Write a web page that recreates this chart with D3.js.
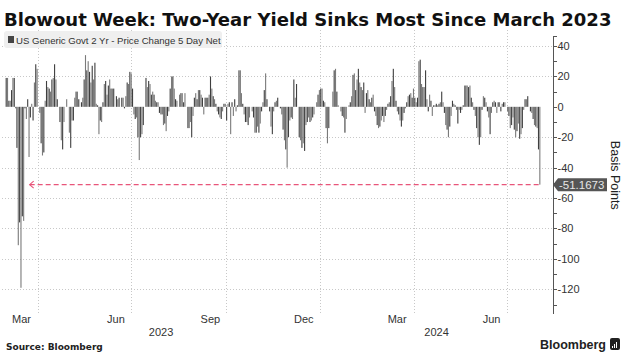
<!DOCTYPE html>
<html>
<head>
<meta charset="utf-8">
<title>Blowout Week</title>
<style>
  body { margin: 0; background: #fff; }
  text { font-family: "Liberation Sans", Arial, sans-serif; }
</style>
</head>
<body>
<script src="https://cdn.jsdelivr.net/npm/d3@7/dist/d3.min.js"></script>
<script>

// 5 day net change of the US 2 year yield, basis points, one value per session (Mar 2023 - Aug 2 2024)
var netChange = [
  19, 19, 4, 4, 11, 19, 19, -1, -27, -91, -76, -119, -72, -75, -1, -8, 5, -33, -7, 2,
  -9, 16, 28, 25, 0, -4, -24, -32, -30, 4, 17, 13, 12, 10, 18, 19, 28, 18, 5, 0,
  -10, -22, -28, -10, 0, 5, 0, -17, -27, -9, -9, 6, 10, 10, 5, 0, 3, 6, 18, 34,
  24, 30, 23, 16, 27, 18, 29, 2, 1, -18, -9, -10, 3, 15, 17,
  8, 14, 18, 12, 12, 12, 0, 7, 5, 6, 0, 6, 6, -1, 7, 16, 15, 23, 22, 12,
  -5, -8, -7, -20, -35, -20, -18, -12, 0, 19, 13, 17, 15, 8, 10, 8, 4, 3, 3, -4,
  -5, -5, -12, -11, -16, -6, -3, 12, 20, 20, 12, 5, 4, 0, 8, 9, 9, 3, 9, 0,
  -14, -14, -10, -20, -6, 6, 9, 5, 11, 11, 8, 6, -5, 6, 6, 6, 8, 20,
  12, 7, 5, 2, -3, -5, -7, -8, -3, 2, 2, -9, 2, 3, -18, 3, -6, 5, -3, 1,
  24, 24, 9, 2, -5, -10, -10, -12, -7, 0, -3, -7, -17, -17, -13, -17, -11, -3, 3, 11,
  22, 5, 0, -3, -13, -18, -3, 3, 4, 6, 0, -1, -5, -15, -22, -28, -40, -20, -9, -7,
  -8, 18, 6, 15, 0, -20, -22, -27, -24, -29, -12, -10, -7, -10, -9, -7, -5, 0, 3, 8,
  11, 12,
  12, 4, 3, -14, -24, -14, 0, 0, 10, 24, 25, 10, 1, 0, -3, -6, -7, -17, -8, 0,
  1, 3, 7, 21, 22, 11, 18, 25, 16, 13, 11, 16, -4, 9, 11, 5, 3, 6, 8, -3,
  -6, -12, -14, -13, -9, -6, -10, -6, -2, 2, 3, 7, 17, 25, 13, 4, -3, -5, -9, -13,
  -9, -4, -1, 3, 7, 8, 9, 6, 12, 6, 3, 6, 30, 31, 15, 13, 13, 24, 5, -3,
  8, 4, -6,
  1, 1, 2, 1, 2, 3, 10, 3, -4, -12, -15, -20, -13, -6, 4, 2, 1, -2, -11, -2,
  -4, -2, 1, 14, 14, 14, 13, 14, 6, 3, -2, -6, -14, -20, -25, -20, -2, 7, 6, 3,
  -3, -7, -18, -4, 3, 4, 3, -4, 3, 3, -3, 2, 3, 3, 0, -3, -6, -14, -12, -7,
  -15, -20, -16, -11, -21, -18, -14, -2, 5, 5, 7, 0, -3, -4, -8, -12, -13, -14, -28, -51.1673
];

var firstSession = new Date(2023, 2, 1);
var lastSession = new Date(2024, 7, 2);

var monthTicks = [new Date(2023, 2, 1), new Date(2023, 5, 1), new Date(2023, 8, 1),
                  new Date(2023, 11, 1), new Date(2024, 2, 1), new Date(2024, 5, 1)];
var monthNames = ["Mar", "Jun", "Sep", "Dec", "Mar", "Jun"];
var years = [2023, 2024];
var yTicks = [40, 20, 0, -20, -40, -60, -80, -100, -120];

var W = 634, H = 361;
var svg = d3.select("body").append("svg").attr("width", W).attr("height", H);

// scales
var x = d3.scaleTime()
  .domain([new Date(2023, 3, 1), new Date(2024, 6, 1)])
  .range([38, 507]);
var xi = d3.scaleLinear()
  .domain([0, netChange.length - 1])
  .range([x(firstSession), x(lastSession)]);
var y = d3.scaleLinear().domain([-120, 40]).range([289.3, 46]);

var plotLeft = 2, axisX = 553, gridTop = 30, gridBottom = 313;

// title
var title = svg.append("text")
  .attr("x", 4).attr("y", 26)
  .style("font-family", "'DejaVu Sans', sans-serif")
  .style("font-weight", "bold")
  .style("font-size", "18px")
  .attr("fill", "#111")
  .text("Blowout Week: Two-Year Yield Sinks Most Since March 2023");
var tw = title.node().getComputedTextLength();
title.style("font-size", (18 * 608 / tw) + "px");

// horizontal grid
svg.append("g").selectAll("line")
  .data(yTicks.filter(function(d){ return d !== 0; }))
  .enter().append("line")
  .attr("x1", plotLeft).attr("x2", axisX)
  .attr("y1", function(d){ return Math.round(y(d)) + 0.5; })
  .attr("y2", function(d){ return Math.round(y(d)) + 0.5; })
  .attr("stroke", "#c8c8c8").attr("stroke-dasharray", "1,2");

// vertical grid at quarter starts
var quarterStarts = d3.timeMonth.range(new Date(2023, 2, 2), lastSession)
  .filter(function(d){ return d.getMonth() % 3 === 0; });
svg.append("g").selectAll("line")
  .data(quarterStarts)
  .enter().append("line")
  .attr("x1", function(d){ return Math.round(x(d)) + 0.5; })
  .attr("x2", function(d){ return Math.round(x(d)) + 0.5; })
  .attr("y1", gridTop).attr("y2", gridBottom)
  .attr("stroke", "#c8c8c8").attr("stroke-dasharray", "1,2");

// bars
svg.append("g").selectAll("rect")
  .data(netChange)
  .enter().append("rect")
  .attr("x", function(d, i){ return xi(i) - 0.55; })
  .attr("width", 1.1)
  .attr("y", function(d){ return y(Math.max(0, d)); })
  .attr("height", function(d){ return Math.abs(y(d) - y(0)); })
  .attr("fill", function(d, i){ return i % 2 ? "#7a7a7a" : "#3f3f3f"; });

// legend
var lg = svg.append("g");
lg.append("rect").attr("x", 4).attr("y", 31).attr("width", 218).attr("height", 17)
  .attr("rx", 3).attr("fill", "#efefef");
lg.append("rect").attr("x", 8).attr("y", 36).attr("width", 6).attr("height", 7).attr("fill", "#444");
lg.append("text").attr("x", 16).attr("y", 43.5)
  .style("font-size", "9.6px").attr("fill", "#333")
  .text("US Generic Govt 2 Yr - Price Change 5 Day Net");

// latest value marker line back to the last lower reading
var lastIdx = netChange.length - 1;
var lastVal = netChange[lastIdx];
var prevIdx = 0;
netChange.forEach(function(d, i){ if (i < lastIdx && d <= lastVal) prevIdx = i; });
var arrowX = xi(prevIdx) + 6, lineY = y(lastVal);
svg.append("line")
  .attr("x1", arrowX).attr("x2", xi(lastIdx))
  .attr("y1", lineY).attr("y2", lineY)
  .attr("stroke", "#e8557a").attr("stroke-width", 1.2)
  .attr("stroke-dasharray", "5,3");
svg.append("path")
  .attr("d", "M" + (arrowX + 4) + "," + (lineY - 3.5) + "L" + arrowX + "," + lineY + "L" + (arrowX + 4) + "," + (lineY + 3.5))
  .attr("fill", "none").attr("stroke", "#e8557a").attr("stroke-width", 1.1);

// right axis
var ax = svg.append("g");
ax.append("line").attr("x1", axisX + 0.5).attr("x2", axisX + 0.5)
  .attr("y1", 36).attr("y2", 314).attr("stroke", "#555");
ax.append("line").attr("x1", axisX).attr("x2", axisX + 4)
  .attr("y1", 36.5).attr("y2", 36.5).attr("stroke", "#555");
ax.selectAll("line.minor")
  .data(d3.range(-130, 50, 10))
  .enter().append("line").attr("class", "minor")
  .attr("x1", axisX).attr("x2", axisX + 4)
  .attr("y1", function(d){ return Math.round(y(d)) + 0.5; })
  .attr("y2", function(d){ return Math.round(y(d)) + 0.5; })
  .attr("stroke", "#555");
ax.selectAll("text")
  .data(yTicks)
  .enter().append("text")
  .attr("x", axisX + 4.5)
  .attr("y", function(d){ return y(d) + 4; })
  .style("font-size", "11px").attr("fill", "#333")
  .text(function(d){ return String(d); });

// last value tag
var tagY = y(lastVal);
svg.append("path")
  .attr("d", "M" + axisX + "," + tagY + "L" + (axisX + 5) + "," + (tagY - 6.5) + "H607V" + (tagY + 6.5) + "H" + (axisX + 5) + "Z")
  .attr("fill", "#555");
svg.append("text")
  .attr("x", axisX + 6).attr("y", tagY + 4)
  .style("font-size", "11.5px").attr("fill", "#e6e6e6")
  .text(lastVal.toFixed(4));

svg.append("text")
  .attr("transform", "translate(611," + y(-45) + ") rotate(90)")
  .attr("text-anchor", "middle")
  .style("font-size", "12.5px").attr("fill", "#222")
  .text("Basis Points");

// x axis labels
svg.append("g").selectAll("text")
  .data(monthTicks)
  .enter().append("text")
  .attr("x", function(d){ return x(new Date(d.getFullYear(), d.getMonth(), 16)); })
  .attr("y", 323)
  .attr("text-anchor", "middle")
  .style("font-size", "11px").attr("fill", "#333")
  .text(function(d, i){ return monthNames[i]; });

svg.append("g").selectAll("text")
  .data(years)
  .enter().append("text")
  .attr("x", function(d){
    var a = Math.max(plotLeft, x(new Date(d, 0, 1)));
    var b = Math.min(axisX, x(new Date(d + 1, 0, 1)));
    return (a + b) / 2;
  })
  .attr("y", 336)
  .attr("text-anchor", "middle")
  .style("font-size", "11px").attr("fill", "#333")
  .text(function(d){ return d; });

// footer
svg.append("text").attr("x", 6).attr("y", 350)
  .style("font-family", "'DejaVu Sans', sans-serif")
  .style("font-weight", "bold").style("font-size", "9px").attr("fill", "#222")
  .text("Source: Bloomberg");
svg.append("text").attr("x", 606).attr("y", 349)
  .attr("text-anchor", "end")
  .style("font-size", "12.5px").style("font-weight", "bold").attr("fill", "#222")
  .text("Bloomberg");
svg.append("rect").attr("x", 610).attr("y", 338).attr("width", 10).attr("height", 12)
  .attr("rx", 2).attr("fill", "#222");
svg.append("g").selectAll("line")
  .data([612.5, 614.5, 616.5])
  .enter().append("line")
  .attr("x1", function(d){ return d; }).attr("x2", function(d){ return d; })
  .attr("y1", function(d, i){ return 346 - i * 2; }).attr("y2", 348)
  .attr("stroke", "#fff").attr("stroke-width", 1);

</script>
</body>
</html>
